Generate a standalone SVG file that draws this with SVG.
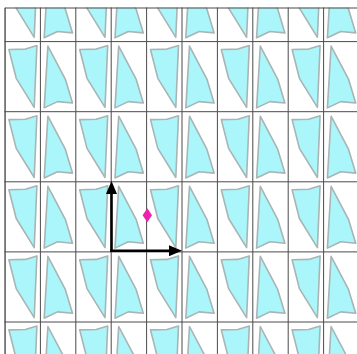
<svg xmlns="http://www.w3.org/2000/svg" xmlns:xlink="http://www.w3.org/1999/xlink" width="357" height="354" viewBox="0 0 357 354">
  <style>
    .grid { stroke: #4a4a4a; stroke-width: 1; fill: none; }
    .shape { fill: #aaf6fa; stroke: #a9b4b4; stroke-width: 1.6; stroke-linejoin: round; }
    .axis { stroke: #000; stroke-width: 2.6; fill: none; }
  </style>
  <defs>
    <clipPath id="area">
      <rect x="4.5" y="7.5" width="353" height="347"/>
    </clipPath>
    <g id="tile">
      <polygon class="shape" points="3.9,7.9 20.4,7.5 31.9,4 29.2,65.8 11.2,36.7"/>
      <polygon class="shape" points="42.9,4.5 60.3,37.5 67.5,61.4 52.5,60 39.2,66.3"/>
      <line class="grid" x1="0" y1="0" x2="0" y2="70.1"/>
      <line class="grid" x1="35.4" y1="0" x2="35.4" y2="70.1"/>
      <line class="grid" x1="0" y1="0" x2="70.8" y2="0"/>
    </g>
    <marker id="ah" viewBox="0 0 13 11" refX="0" refY="5.5" markerWidth="13" markerHeight="11" markerUnits="userSpaceOnUse" orient="auto">
      <path d="M0,0 L13,5.5 L0,11 z" fill="#000"/>
    </marker>
  </defs>
  <rect width="357" height="354" fill="#fff"/>
  <g id="tiling" clip-path="url(#area)">
    <use xlink:href="#tile" x="-65.8" y="-28.5"/><use xlink:href="#tile" x="5" y="-28.5"/><use xlink:href="#tile" x="75.8" y="-28.5"/><use xlink:href="#tile" x="146.6" y="-28.5"/><use xlink:href="#tile" x="217.4" y="-28.5"/><use xlink:href="#tile" x="288.2" y="-28.5"/>
    <use xlink:href="#tile" x="-65.8" y="41.6"/><use xlink:href="#tile" x="5" y="41.6"/><use xlink:href="#tile" x="75.8" y="41.6"/><use xlink:href="#tile" x="146.6" y="41.6"/><use xlink:href="#tile" x="217.4" y="41.6"/><use xlink:href="#tile" x="288.2" y="41.6"/>
    <use xlink:href="#tile" x="-65.8" y="111.7"/><use xlink:href="#tile" x="5" y="111.7"/><use xlink:href="#tile" x="75.8" y="111.7"/><use xlink:href="#tile" x="146.6" y="111.7"/><use xlink:href="#tile" x="217.4" y="111.7"/><use xlink:href="#tile" x="288.2" y="111.7"/>
    <use xlink:href="#tile" x="-65.8" y="181.8"/><use xlink:href="#tile" x="5" y="181.8"/><use xlink:href="#tile" x="75.8" y="181.8"/><use xlink:href="#tile" x="146.6" y="181.8"/><use xlink:href="#tile" x="217.4" y="181.8"/><use xlink:href="#tile" x="288.2" y="181.8"/>
    <use xlink:href="#tile" x="-65.8" y="251.9"/><use xlink:href="#tile" x="5" y="251.9"/><use xlink:href="#tile" x="75.8" y="251.9"/><use xlink:href="#tile" x="146.6" y="251.9"/><use xlink:href="#tile" x="217.4" y="251.9"/><use xlink:href="#tile" x="288.2" y="251.9"/>
    <use xlink:href="#tile" x="-65.8" y="322"/><use xlink:href="#tile" x="5" y="322"/><use xlink:href="#tile" x="75.8" y="322"/><use xlink:href="#tile" x="146.6" y="322"/><use xlink:href="#tile" x="217.4" y="322"/><use xlink:href="#tile" x="288.2" y="322"/>
  </g>
  <g id="border">
    <line class="grid" x1="5" y1="8" x2="357" y2="8"/>
    <line class="grid" x1="5" y1="8" x2="5" y2="354"/>
  </g>
  <g id="connectors">
    <path class="axis" d="M111.5,252 V194" marker-end="url(#ah)"/>
    <path class="axis" d="M110.2,250.7 H169" marker-end="url(#ah)"/>
  </g>
  <g id="origin-marker">
    <polygon points="147.3,208.3 152,215.3 147.3,222.3 142.6,215.3" fill="#ee22aa"/>
  </g>
</svg>
